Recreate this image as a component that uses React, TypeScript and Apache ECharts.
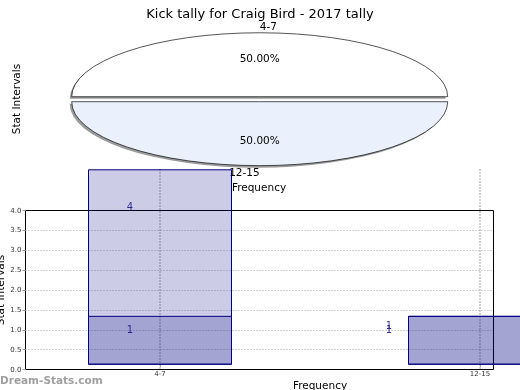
import React, { useEffect, useRef } from 'react';
import * as echarts from 'echarts';

const titleText = 'Kick tally for Craig Bird - 2017 tally';
const pieCategories = ['4-7', '12-15'];
const pieValues = [1, 1];
const barCategories = ['4-7', '12-15'];
const seriesA = [4, 1];
const seriesB = [1, 1];

const FONT = 'DejaVu Sans';

export default function App() {
  const ref = useRef<HTMLDivElement>(null);
  useEffect(() => {
    if (!ref.current) return;
    const chart = echarts.init(ref.current, undefined, { renderer: 'svg' });
    const total = pieValues.reduce((a, b) => a + b, 0);
    const starts: number[] = [];
    let cum = 0;
    pieValues.forEach((v) => { starts.push(cum); cum += v; });
    const pieFills = ['#ffffff', '#eaf1fd'];
    const rx = 188, ry = 64, explode = 2.5;

    const labelOffsetsA = [[-30, -4], [-91, -4]];
    const labelOffsetsB = [[-30, 0], [-91, 0]];
    const barLabel = (vals: number[], offs: number[][]) =>
      vals.map((v, i) => ({
        value: [i, v],
        label: { offset: offs[i] },
      }));

    const option: any = {
      animation: false,
      textStyle: { fontFamily: FONT },
      title: {
        text: titleText,
        left: 'center',
        top: 2,
        textStyle: { fontSize: 13, fontWeight: 'normal', color: '#000', fontFamily: FONT },
      },
      graphic: [
        {
          type: 'text', x: 16, y: 99, rotation: Math.PI / 2,
          style: { text: 'Stat Intervals', fontSize: 10.5, fontFamily: FONT, fill: '#000', align: 'center', verticalAlign: 'middle' },
        },
        {
          type: 'text', x: 259, y: 187,
          style: { text: 'Frequency', fontSize: 10.5, fontFamily: FONT, fill: '#000', align: 'center', verticalAlign: 'middle' },
        },
        {
          type: 'text', x: 0, y: 380, z: 100,
          style: { text: 'Dream-Stats.com', fontSize: 10.5, fontWeight: 'bold', fontFamily: FONT, fill: '#a0a0a0', align: 'left', verticalAlign: 'middle' },
        },
      ],
      grid: [
        { left: 25.5, top: 210.5, width: 468, height: 159, show: true, borderColor: '#000', borderWidth: 1, backgroundColor: 'transparent', outerBoundsMode: 'none', containLabel: false },
        { left: 160, top: 169.3, width: 320, height: 200, outerBoundsMode: 'none', containLabel: false },
      ],
      xAxis: [
        { gridIndex: 0, type: 'category', data: barCategories, show: false },
        {
          gridIndex: 1, type: 'category', data: barCategories, boundaryGap: false,
          axisLine: { show: false },
          axisTick: { show: true, length: 2, lineStyle: { color: '#999' } },
          axisLabel: { fontSize: 7, color: '#333', margin: 1, fontFamily: FONT },
          splitLine: { show: true, lineStyle: { type: [1.5, 1.5], color: '#b0b0b0', width: 1.5 } },
          name: 'Frequency', nameLocation: 'middle', nameGap: 10, nameMoveOverlap: false,
          nameTextStyle: { fontSize: 10.5, color: '#000', fontFamily: FONT },
        },
      ],
      yAxis: [
        {
          gridIndex: 0, type: 'value', min: 0, max: 4, interval: 0.5,
          axisLine: { show: false },
          axisTick: { show: true, length: 3, lineStyle: { color: '#999' } },
          axisLabel: { fontSize: 7, color: '#333', margin: 4, fontFamily: FONT, formatter: (v: number) => v.toFixed(1) },
          splitLine: { show: true, showMinLine: false, showMaxLine: false, lineStyle: { type: [1, 2], color: '#a8a8a8' } },
          name: 'Stat Intervals', nameLocation: 'middle', nameGap: 20, nameMoveOverlap: false,
          nameTextStyle: { fontSize: 10.5, color: '#000', fontFamily: FONT },
        },
        { gridIndex: 1, type: 'value', min: -0.094, max: 4, show: false },
        { gridIndex: 1, type: 'value', min: 0, max: 5.044, show: false },
      ],
      series: [
        {
          type: 'custom',
          coordinateSystem: 'none',
          data: pieCategories.map((name, i) => ({ name, value: pieValues[i] })),
          renderItem: (params: any, api: any) => {
            const i = params.dataIndex;
            const v = api.value(0);
            const cx = 259.7, cy = 99.2;
            const a0 = -(starts[i] / total) * 2 * Math.PI;
            const a1 = -((starts[i] + v) / total) * 2 * Math.PI;
            const m = (a0 + a1) / 2;
            const ox = cx + Math.cos(m) * explode;
            const oy = cy + Math.sin(m) * explode;
            const sy = ry / rx;
            const shape = { cx: 0, cy: 0, r: rx, r0: 0, startAngle: a1, endAngle: a0, clockwise: true };
            const pct = ((v / total) * 100).toFixed(2) + '%';
            return {
              type: 'group',
              children: [
                { type: 'sector', x: ox - 2, y: oy + 2, scaleY: sy, shape, style: { fill: '#9a9a9a' } },
                { type: 'sector', x: ox, y: oy, scaleY: sy, shape, style: { fill: pieFills[i], stroke: '#000', lineWidth: 1, strokeNoScale: true } },
                {
                  type: 'text', x: ox + Math.cos(m) * rx * 0.6, y: oy + Math.sin(m) * ry * 0.6,
                  style: { text: pct, fontSize: 10.5, fontFamily: FONT, fill: '#000', align: 'center', verticalAlign: 'middle' },
                },
                {
                  type: 'text', x: ox + Math.cos(m) * (rx + 6.7), y: oy + Math.sin(m) * (ry + 6.7),
                  style: { text: pieCategories[i], fontSize: 10.5, fontFamily: FONT, fill: '#000', align: Math.cos(m) >= 0 ? 'left' : 'right', verticalAlign: 'middle' },
                },
              ],
            };
          },
        },
        {
          type: 'bar', xAxisIndex: 1, yAxisIndex: 1, data: seriesA, barWidth: 144, barGap: '-100%', clip: false,
          itemStyle: { color: 'rgba(0,0,128,0.2)', borderColor: '#000080', borderWidth: 1 },
        },
        {
          type: 'bar', xAxisIndex: 1, yAxisIndex: 1, data: seriesB, barWidth: 144, barGap: '-100%', clip: false,
          itemStyle: { color: 'rgba(0,0,128,0.2)', borderColor: '#000080', borderWidth: 1 },
        },
        {
          type: 'scatter', xAxisIndex: 1, yAxisIndex: 2, symbolSize: 0, clip: false,
          data: barLabel(seriesA, labelOffsetsA),
          label: { show: true, position: 'inside', fontSize: 10, color: '#00007f', fontFamily: FONT, formatter: (p: any) => String(p.value[1]) },
        },
        {
          type: 'scatter', xAxisIndex: 1, yAxisIndex: 2, symbolSize: 0, clip: false,
          data: barLabel(seriesB, labelOffsetsB),
          label: { show: true, position: 'inside', fontSize: 10, color: '#00007f', fontFamily: FONT, formatter: (p: any) => String(p.value[1]) },
        },
      ],
    };
    chart.setOption(option);
    return () => chart.dispose();
  }, []);
  return <div ref={ref} style={{ position: 'fixed', left: 0, top: 0, width: 520, height: 390 }} />;
}
